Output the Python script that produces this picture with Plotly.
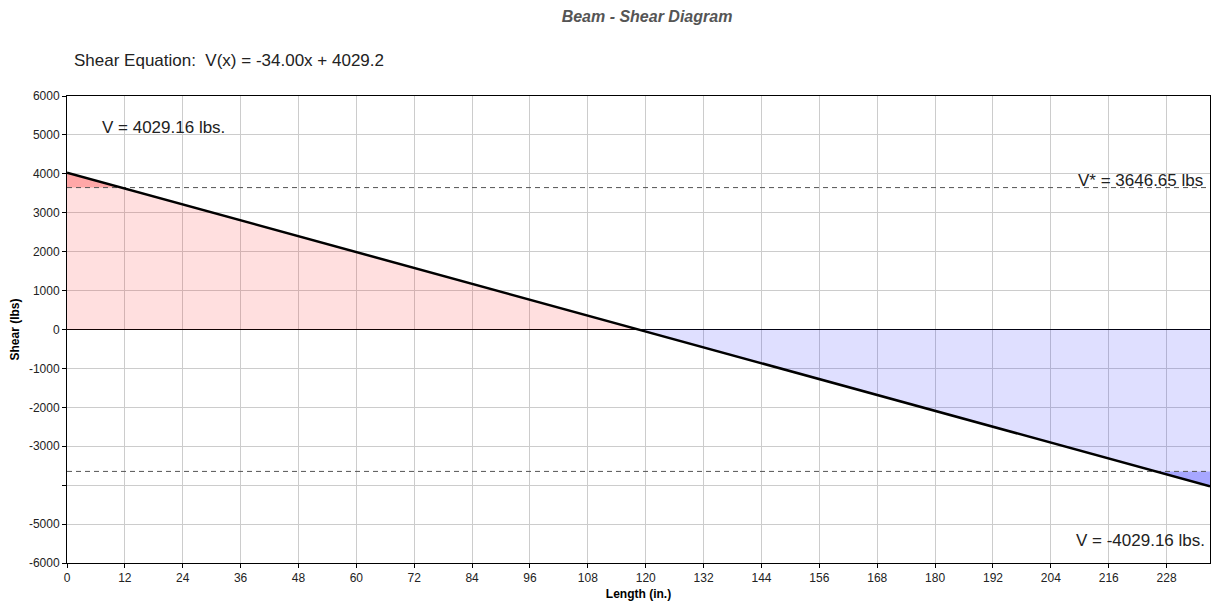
import plotly.graph_objects as go

# ---- data ----
length_in = [0.0, 237.0]
shear_lbs = [4029.16, -4029.16]
v_star = 3646.65
x_ticks = list(range(0, 229, 12))
y_ticks = list(range(-6000, 6001, 1000))
y_tick_text = [str(v) if v != -4000 else "" for v in y_ticks]
title_text = "Beam - Shear Diagram"
equation_text = "Shear Equation:  V(x) = -34.00x + 4029.2"
label_vmax = "V = 4029.16 lbs."
label_vstar = "V* = 3646.65 lbs"
label_vmin = "V = -4029.16 lbs."

# derived crossing points along the line
x0, x1 = length_in
y0, y1 = shear_lbs
def x_at(v):
    return x0 + (v - y0) * (x1 - x0) / (y1 - y0)
xz = x_at(0.0)
xs_top = x_at(v_star)
xs_bot = x_at(-v_star)

fig = go.Figure()
# light fills
fig.add_trace(go.Scatter(x=[x0, x0, xz], y=[0, y0, 0], fill="toself", mode="none",
                         fillcolor="rgba(255,40,40,0.15)", hoverinfo="skip", showlegend=False))
fig.add_trace(go.Scatter(x=[xz, x1, x1], y=[0, y1, 0], fill="toself", mode="none",
                         fillcolor="rgba(40,40,255,0.15)", hoverinfo="skip", showlegend=False))
# dark fills beyond V*
fig.add_trace(go.Scatter(x=[x0, x0, xs_top], y=[v_star, y0, v_star], fill="toself", mode="none",
                         fillcolor="rgba(255,100,100,0.45)", hoverinfo="skip", showlegend=False))
fig.add_trace(go.Scatter(x=[xs_bot, x1, x1], y=[-v_star, y1, -v_star], fill="toself", mode="none",
                         fillcolor="rgba(100,100,255,0.45)", hoverinfo="skip", showlegend=False))
# V* dashed lines
for v in (v_star, -v_star):
    fig.add_trace(go.Scatter(x=[x0, x1], y=[v, v], mode="lines",
                             line=dict(color="#555555", width=1, dash="5px,4px"),
                             hoverinfo="skip", showlegend=False))
# shear line
fig.add_trace(go.Scatter(x=length_in, y=shear_lbs, mode="lines",
                         line=dict(color="black", width=2.5), showlegend=False))

fnt = "Liberation Sans, Arial, sans-serif"
W, H = 1215, 606
ML, MR, MT, MB = 67, 5, 96, 43
PW, PH = W - ML - MR, H - MT - MB
fig.update_layout(
    width=W, height=H,
    margin=dict(l=ML, r=MR, t=MT, b=MB),
    plot_bgcolor="white", paper_bgcolor="white",
    font=dict(family=fnt, size=12, color="#222222"),
    title=dict(text="<b><i>" + title_text + "</i></b>", x=647 / W, xanchor="center",
               y=1 - 16 / H, yanchor="middle", font=dict(size=16, color="#555555", family=fnt)),
    xaxis=dict(range=[0, 237], tickvals=x_ticks, ticks="outside", ticklen=4,
               tickcolor="black", showline=True, linecolor="black", linewidth=1, mirror=True,
               showgrid=True, gridcolor="#cccccc", gridwidth=1, zeroline=False,
               title=dict(text="<b>Length (in.)</b>", font=dict(size=12, color="black"), standoff=5)),
    yaxis=dict(range=[-6000, 6000], tickvals=y_ticks, ticktext=y_tick_text, ticks="outside",
               ticklen=4, tickcolor="black", showline=True, linecolor="black", linewidth=1,
               mirror=True, showgrid=True, gridcolor="#cccccc", gridwidth=1,
               zeroline=True, zerolinecolor="black", zerolinewidth=1,
               title=dict(text="<b>Shear (lbs)</b>", font=dict(size=12, color="black"), standoff=6)),
    annotations=[
        dict(text=equation_text, xref="paper", yref="paper", x=(72 - ML) / PW, y=(H - MB - 60) / PH,
             xanchor="left", yanchor="middle", showarrow=False, font=dict(size=17, color="#222222")),
        dict(text=label_vmax, xref="x", yref="y", x=6.8, y=5180, xanchor="left", yanchor="middle",
             showarrow=False, font=dict(size=17, color="#222222")),
        dict(text=label_vstar, xref="paper", yref="y", x=0.996, y=v_star, xanchor="right",
             yanchor="bottom", yshift=-4, showarrow=False, font=dict(size=17, color="#222222")),
        dict(text=label_vmin, xref="paper", yref="y", x=0.997, y=-5410, xanchor="right",
             yanchor="middle", showarrow=False, font=dict(size=17, color="#222222")),
    ],
)
fig.write_html("out.html", config={"displayModeBar": False},
               post_script="document.body.style.margin='0';document.body.style.overflow='hidden';")
